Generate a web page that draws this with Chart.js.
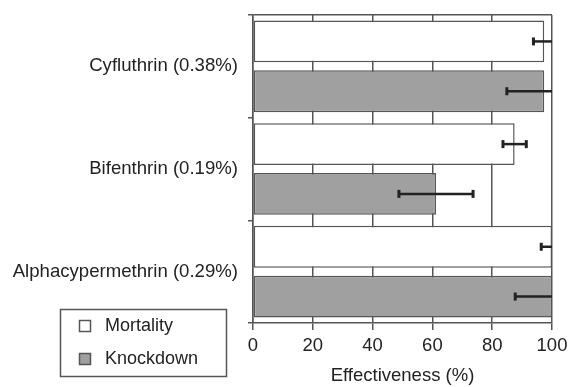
<!DOCTYPE html>
<html>
<head>
<meta charset="utf-8">
<script src="https://cdn.jsdelivr.net/npm/chart.js@4/dist/chart.umd.min.js"></script>
<style>
  body { margin: 0; background: #fff; }
  #effChart { display: block; }
</style>
</head>
<body>
<canvas id="effChart" width="568" height="387"></canvas>
<script>
// chart values
const insecticides = ['Cyfluthrin (0.38%)', 'Bifenthrin (0.19%)', 'Alphacypermethrin (0.29%)'];
const mortality = [97.4, 87.5, 100];
const mortalityErr = [3.6, 3.9, 3.6];
const knockdown = [97.4, 61.2, 100];
const knockdownErr = [12.5, 12.4, 12.3];
const xTicks = [0, 20, 40, 60, 80, 100];

const lineColor = '#555';
const fontFamily = 'Arial, "Liberation Sans", sans-serif';

// horizontal error bars, cut at the plot edge like the original
const errorBars = {
    id: 'errorBars',
    afterDatasetsDraw(chart) {
        const ctx = chart.ctx;
        const area = chart.chartArea;
        const xScale = chart.scales.x;
        chart.data.datasets.forEach((ds, i) => {
            const meta = chart.getDatasetMeta(i);
            meta.data.forEach((bar, j) => {
                const v = ds.data[j];
                const e = ds.errors[j];
                let x1 = xScale.getPixelForValue(v - e);
                let x2 = xScale.getPixelForValue(v + e);
                const y = bar.y;
                ctx.save();
                ctx.strokeStyle = '#222';
                ctx.lineWidth = 2.5;
                ctx.beginPath();
                ctx.moveTo(Math.max(x1, area.left), y);
                ctx.lineTo(Math.min(x2, area.right), y);
                ctx.stroke();
                ctx.lineWidth = 3;
                [x1, x2].forEach(x => {
                    if (x >= area.left && x <= area.right - 1) {
                        ctx.beginPath();
                        ctx.moveTo(x, y - 4);
                        ctx.lineTo(x, y + 4);
                        ctx.stroke();
                    }
                });
                ctx.restore();
            });
        });
    }
};

// boxed legend in the lower left corner
const boxLegend = {
    id: 'boxLegend',
    afterDraw(chart) {
        const ctx = chart.ctx;
        ctx.save();
        ctx.strokeStyle = lineColor;
        ctx.lineWidth = 1.5;
        ctx.strokeRect(60.5, 309.5, 166, 67);
        chart.data.datasets.forEach((ds, i) => {
            const cy = 326 + i * 33;
            ctx.fillStyle = ds.backgroundColor;
            ctx.fillRect(79, cy - 6, 12, 12);
            ctx.lineWidth = 1.5;
            ctx.strokeStyle = lineColor;
            ctx.strokeRect(79.5, cy - 5.5, 11, 11);
            ctx.fillStyle = '#222';
            ctx.font = '18px ' + fontFamily;
            ctx.textBaseline = 'middle';
            ctx.fillText(ds.label, 105, cy);
        });
        ctx.restore();
    }
};

const ctx = document.getElementById('effChart').getContext('2d');
new Chart(ctx, {
    type: 'bar',
    data: {
        labels: insecticides,
        datasets: [{
            label: 'Mortality',
            data: mortality,
            errors: mortalityErr,
            backgroundColor: '#ffffff',
            borderColor: lineColor,
            borderWidth: 1.5,
            borderSkipped: false
        }, {
            label: 'Knockdown',
            data: knockdown,
            errors: knockdownErr,
            backgroundColor: '#a0a0a0',
            borderColor: lineColor,
            borderWidth: 1.5,
            borderSkipped: false
        }]
    },
    options: {
        indexAxis: 'y',
        responsive: false,
        animation: false,
        categoryPercentage: 0.97,
        barPercentage: 0.84,
        layout: { padding: { top: 15, right: 16, left: 0, bottom: 0 } },
        scales: {
            x: {
                min: 0,
                max: 100,
                afterBuildTicks: scale => { scale.ticks = xTicks.map(v => ({ value: v })); },
                afterFit: scale => {
                    scale.height = 64;
                    scale.paddingLeft = 0;
                    scale.paddingRight = 0;
                },
                grid: { color: lineColor, lineWidth: 1.5, tickLength: 7 },
                border: { color: lineColor, width: 1.5 },
                ticks: { color: '#222', padding: 5, font: { size: 18.5, family: fontFamily } },
                title: {
                    display: true,
                    text: 'Effectiveness (%)',
                    color: '#222',
                    padding: { top: 0, bottom: 0 },
                    font: { size: 18.5, family: fontFamily }
                }
            },
            y: {
                afterFit: scale => {
                    scale.width = 253;
                    scale.paddingTop = 0;
                    scale.paddingBottom = 0;
                },
                grid: {
                    color: c => c.index === 0 ? lineColor : 'rgba(0,0,0,0)',
                    tickColor: lineColor,
                    lineWidth: 1.5,
                    tickLength: 5
                },
                border: { color: lineColor, width: 1.5 },
                ticks: { color: '#222', padding: 10, font: { size: 18.6, family: fontFamily } }
            }
        },
        plugins: {
            legend: { display: false },
            tooltip: { enabled: false }
        }
    },
    plugins: [errorBars, boxLegend]
});
</script>
</body>
</html>
